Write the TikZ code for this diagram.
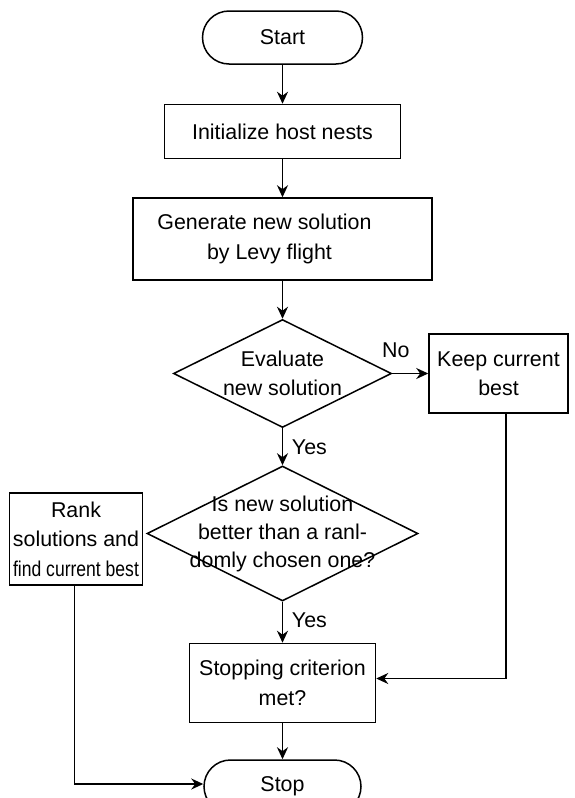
\documentclass[tikz,border=0pt]{standalone}
\usepackage{fontspec}
\setmainfont{Liberation Sans}
\usetikzlibrary {arrows.meta,
                 positioning,
                 shapes.geometric}
\tikzset{
        base/.style={draw, align=center, line width=0.75pt, inner sep=0pt},
        proc/.style={base, rectangle},
        test/.style={base, diamond, aspect=2},
        term/.style={proc, rounded corners=13.25pt, minimum width=80pt,
                     minimum height=26.5pt},
        myarrow/.style={-{Stealth[length=6pt, width=5.5pt]}, line width=0.8pt},
 }
\begin{document}
\begin{tikzpicture}[font=\fontsize{10.7}{14.75}\selectfont]
    \useasboundingbox (0,0) rectangle (287pt,-399pt);

    \node[term] (start) at (141.25pt,-18.75pt) {Start};
    \node[proc, below=19.5pt of start, minimum width=118pt, minimum height=27pt] (init) {Initialize host nests};
    \node[proc, below=19pt of init, minimum width=149.5pt, minimum height=41pt] (gen) {Generate new solution\hspace*{18pt}\\by Levy flight\hspace*{13pt}};
    \node[test, below=19pt of gen, minimum width=109pt, minimum height=54pt] (eval) {Evaluate\\new solution};
    \node[proc, right=18pt of eval, minimum width=69.5pt, minimum height=39.5pt] (keep) {Keep current\\best};
    \node[test, below=18.5pt of eval, minimum width=135.5pt, minimum height=67.5pt,
          label={[align=center, font=\fontsize{10.7}{14}\selectfont]center:Is new solution\\better than a ranl-\\domly chosen one?}] (better) {};
    \node[proc, left=1.5pt of better, yshift=-2.75pt, minimum width=66.5pt, minimum height=46pt] (rank) {Rank\\solutions and\\\scalebox{0.82}[1]{find current best}};
    \node[proc, below=20.5pt of better, minimum width=93pt, minimum height=39.5pt] (crit) {Stopping criterion\\met?};
    \node[term, below=18pt of crit, minimum width=78.5pt] (stop) {Stop};

    \draw[myarrow] (start) -- (init);
    \draw[myarrow] (init) -- (gen);
    \draw[myarrow] (gen) -- (eval);
    \draw[myarrow] (eval) -- node[above=4pt, pos=0.1] {No} (keep);
    \draw[myarrow] (eval) -- node[right=1pt] {Yes} (better);
    \draw[myarrow] (better) -- node[right=1pt, pos=0.45] {Yes} (crit);
    \draw[myarrow] (crit) -- (stop);
    \draw[myarrow] ([xshift=3.75pt]keep.south) |- ([yshift=2.25pt]crit.east);
    \draw[myarrow] ([xshift=-0.75pt]rank.south) |- ([yshift=1.25pt]stop.west);
\end{tikzpicture}
\end{document}
